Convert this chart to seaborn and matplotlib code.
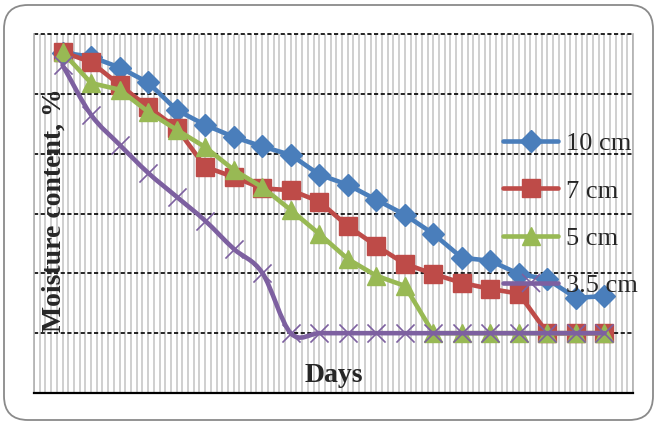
import numpy as np
import pandas as pd
import matplotlib
matplotlib.use("Agg")
import matplotlib.pyplot as plt
import seaborn as sns
from matplotlib.path import Path
from matplotlib.patches import PathPatch, FancyBboxPatch
from matplotlib.lines import Line2D

# ---- data ----
days = list(range(1, 21))
d10 = [46.9, 46.2, 44.4, 41.9, 37.3, 34.8, 32.8, 31.2, 29.8, 26.5,
       24.8, 22.3, 19.8, 16.6, 12.6, 12.1, 9.9, 9.0, 5.9, 6.2]
d7 = [47.0, 45.3, 41.5, 37.8, 34.3, 27.8, 26.1, 24.2, 23.9, 22.0,
      17.9, 14.6, 11.6, 9.9, 8.4, 7.4, 6.6, 0, 0, 0]
d5 = [47.0, 41.8, 40.7, 37.0, 34.0, 31.1, 27.3, 24.4, 20.6, 16.6,
      12.4, 9.6, 7.9, 0, 0, 0, 0, 0, 0, 0]
d35 = [44.8, 36.5, 31.5, 26.8, 22.8, 18.8, 14.1, 10.1, 0, 0,
       0, 0, 0, 0, 0, 0, 0, 0, 0, 0]
labels = ["10 cm", "7 cm", "5 cm", "3.5 cm"]
colors = ["#4A7EBB", "#BE4B48", "#98B954", "#7D60A0"]
markers = ["D", "s", "^", "x"]
msizes = [11.5, 12.5, 12.5, 13]

sns.set_style("white")
plt.rcParams['font.family'] = ['Liberation Serif', 'DejaVu Serif']

fig = plt.figure(figsize=(6.55, 4.22), dpi=100)
ax = fig.add_axes([34 / 655, 29 / 422, 599 / 655, 359 / 422])
ax.set_xlim(0, 21)
ax.set_ylim(-10, 50)

# excel-like grid
ax.set_xticks(np.arange(0, 21.001, 0.2))
ax.set_yticks(np.arange(-10, 51, 10))
ax.tick_params(length=0, labelbottom=False, labelleft=False)
ax.grid(axis="x", color="#c2c2c2", lw=1.1)
ax.grid(axis="y", color="black", lw=1.2, ls=(0, (2.5, 1.5)))
for gl in ax.get_ygridlines():
    gl.set_clip_on(False)
ax.set_axisbelow(True)
for s in ["left", "right"]:
    ax.spines[s].set_color("#b0b0b0")
    ax.spines[s].set_linewidth(1.2)
ax.spines["top"].set_visible(False)
ax.spines["bottom"].set_color("black")
ax.spines["bottom"].set_linewidth(1.6)

series = [d10, d7, d5]
for vals, c, m, ms in zip(series, colors, markers, msizes):
    sns.lineplot(x=days, y=vals, ax=ax, color=c, lw=3.3, marker=m, ms=ms,
                 mec=c, mew=1, clip_on=False, zorder=3)

# 3.5 cm drawn as a smoothed line (excel "smoothed line")
P = np.column_stack([days, d35]).astype(float)
n = len(P)
tang = np.zeros_like(P)
tang[1:-1] = (P[2:] - P[:-2]) / 2
tang[0] = P[1] - P[0]
tang[-1] = P[-1] - P[-2]
verts = [tuple(P[0])]
codes = [Path.MOVETO]
for i in range(n - 1):
    verts += [tuple(P[i] + tang[i] / 3), tuple(P[i + 1] - tang[i + 1] / 3), tuple(P[i + 1])]
    codes += [Path.CURVE4] * 3
ax.add_patch(PathPatch(Path(verts, codes), fill=False, ec=colors[3], lw=3.3,
                       capstyle="round", joinstyle="round", zorder=4))
sns.scatterplot(x=days, y=d35, ax=ax, marker="x", s=170, color=colors[3],
                linewidth=1.2, zorder=5)

ax.set_xlabel("")
ax.set_ylabel("")

handles = [Line2D([], [], color=c, lw=3.3, marker=m, ms=ms, mec=c,
                  mew=1.2 if m == "x" else 1)
           for c, m, ms in zip(colors, markers, msizes)]
ax.legend(handles, labels, loc="center left", bbox_to_anchor=(0.783, 0.497),
          frameon=False, fontsize=19, handlelength=2.1, handletextpad=0.3,
          labelspacing=0.9, borderpad=0, borderaxespad=0, numpoints=1)

ax.text((54 - 34) / 599, (393 - 210) / 359, "Moisture content, %", transform=ax.transAxes,
        rotation=90, ha="center", va="center", fontsize=20, fontweight="bold")
ax.text((334 - 34) / 599, (393 - 375) / 359, "Days", transform=ax.transAxes,
        ha="center", va="center", fontsize=20, fontweight="bold")

# rounded chart border
fig.patches.append(FancyBboxPatch((4, 2), 649, 415, boxstyle="round,pad=0,rounding_size=24",
                                  transform=None, fill=False, ec="#8a8a8a", lw=1.3))

fig.savefig("out.png", dpi=100)
